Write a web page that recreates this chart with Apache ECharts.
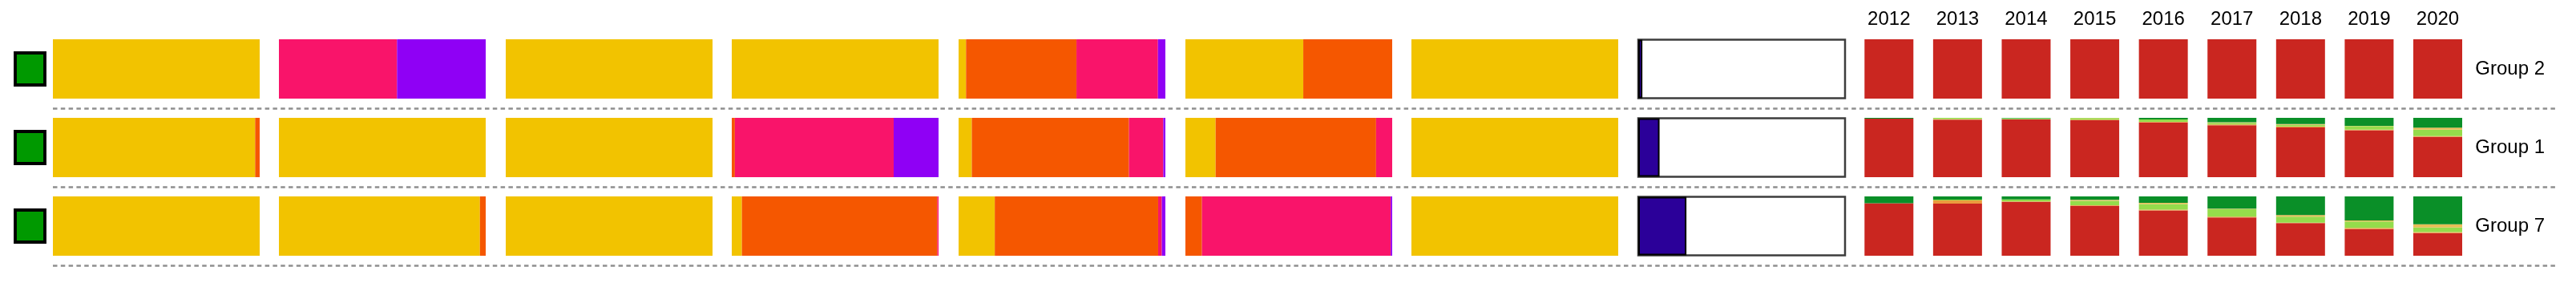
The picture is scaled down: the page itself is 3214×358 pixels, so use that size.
<!DOCTYPE html>
<html>
<head>
<meta charset="utf-8">
<script src="https://cdn.jsdelivr.net/npm/echarts@6/dist/echarts.min.js"></script>
<style>
  html, body { margin: 0; padding: 0; background: #fff; }
  #chart { width: 3214px; height: 358px; }
</style>
</head>
<body>
<div id="chart"></div>
<script>
// ---------------- DATA ----------------
const groups = ['Group 2', 'Group 1', 'Group 7'];
const years = ['2012', '2013', '2014', '2015', '2016', '2017', '2018', '2019', '2020'];
const status = ['ok', 'ok', 'ok'];

// Horizontal 100% panels: rows = groups, columns = [yellow, orange, pink, violet] shares (%)
const panel1 = [[100, 0, 0, 0], [97.8, 2.2, 0, 0], [100, 0, 0, 0]];
const panel2 = [[0, 0, 57.1, 42.9], [100, 0, 0, 0], [97.2, 2.8, 0, 0]];
const panel3 = [[100, 0, 0, 0], [100, 0, 0, 0], [100, 0, 0, 0]];
const panel4 = [[100, 0, 0, 0], [0, 1.5, 76.8, 21.7], [4.9, 94.5, 0.6, 0]];
const panel5 = [[3.6, 53.4, 39.4, 3.6], [6.4, 76, 16.6, 1], [17.5, 79, 1.8, 1.7]];
const panel6 = [[57, 43, 0, 0], [14.6, 77.6, 7.8, 0], [0, 8, 91.3, 0.7]];
const panel7 = [[100, 0, 0, 0], [100, 0, 0, 0], [100, 0, 0, 0]];
// Share shown in the outlined panel (%)
const panel8 = [2, 10.3, 23.3];

// Yearly vertical 100% bars, one array per segment per group (bottom to top: red, orange, light green, amber, dark green)
const g2Red       = [100, 100, 100, 100, 100, 100, 100, 100, 100];
const g2Orange    = [0, 0, 0, 0, 0, 0, 0, 0, 0];
const g2LightGreen= [0, 0, 0, 0, 0, 0, 0, 0, 0];
const g2Amber     = [0, 0, 0, 0, 0, 0, 0, 0, 0];
const g2DarkGreen = [0, 0, 0, 0, 0, 0, 0, 0, 0];

const g1Red       = [98.5, 97, 97.8, 96, 92.3, 87.4, 83.7, 79.2, 68];
const g1Orange    = [0, 1, 0, 1, 1, 1.4, 1.8, 1, 1.4];
const g1LightGreen= [0, 2, 1.5, 2.5, 4, 2.6, 2.7, 5.8, 10.8];
const g1Amber     = [0, 0, 0, 0.5, 0, 1, 1.4, 0.5, 3.1];
const g1DarkGreen = [1.5, 0, 0.7, 0, 2.7, 7.6, 10.4, 13.5, 16.7];

const g7Red       = [88.6, 87.7, 91, 84.1, 76.4, 64.5, 55, 45, 38.2];
const g7Orange    = [0, 5.4, 0.4, 0.9, 1.4, 1.4, 0.9, 1.8, 1.8];
const g7LightGreen= [0, 1.4, 3.6, 7.7, 9.5, 12.7, 10, 10.9, 7.7];
const g7Amber     = [0, 0, 0, 1.4, 1.8, 0.9, 2.7, 1.8, 5.5];
const g7DarkGreen = [11.4, 5.5, 5, 5.9, 10.9, 20.5, 31.4, 40.5, 46.8];

// ---------------- STYLE / LAYOUT ----------------
const FONT = '"Liberation Sans", Arial, Helvetica, sans-serif';
const segColors = ['#f2c300', '#f55700', '#f9146a', '#8f00f5'];
const yearColors = ['#ca2620', '#eb9a3e', '#95dc4b', '#e8bd55', '#0a8f28'];
const panelLefts = [66, 348, 631, 913, 1196, 1479, 1761, 2044];
const panelWidth = 258;

const panels = [panel1, panel2, panel3, panel4, panel5, panel6, panel7];
const yearRows = [
  [g2Red, g2Orange, g2LightGreen, g2Amber, g2DarkGreen],
  [g1Red, g1Orange, g1LightGreen, g1Amber, g1DarkGreen],
  [g7Red, g7Orange, g7LightGreen, g7Amber, g7DarkGreen]
];

const grid = [], xAxis = [], yAxis = [], series = [];

// horizontal panels
panels.forEach((p, i) => {
  const gi = grid.length;
  grid.push({ left: panelLefts[i], width: panelWidth, top: 37, height: 294 });
  xAxis.push({ gridIndex: gi, type: 'value', min: 0, max: 100, show: false });
  const yi = yAxis.length;
  yAxis.push({ gridIndex: gi, type: 'category', data: groups, inverse: true, show: false });
  segColors.forEach((c, s) => {
    series.push({
      type: 'bar', xAxisIndex: xAxis.length - 1, yAxisIndex: yi, stack: 'p' + i,
      barWidth: 74, data: p.map(row => row[s]),
      itemStyle: { color: c }, silent: true
    });
  });
});

// outlined panel
{
  const gi = grid.length;
  grid.push({ left: panelLefts[7], width: panelWidth, top: 37, height: 294 });
  xAxis.push({ gridIndex: gi, type: 'value', min: 0, max: 100, show: false });
  yAxis.push({ gridIndex: gi, type: 'category', data: groups, inverse: true, show: false });
  series.push({
    type: 'bar', xAxisIndex: xAxis.length - 1, yAxisIndex: yAxis.length - 1,
    barWidth: 73, data: panel8,
    showBackground: true,
    backgroundStyle: { color: '#ffffff', borderColor: '#3d3d3d', borderWidth: 2.5 },
    itemStyle: { color: '#2b0099', borderColor: '#000', borderWidth: 2 }, silent: true
  });
}

// year rows
yearRows.forEach((row, r) => {
  const gi = grid.length;
  grid.push({ left: 2314, width: 770.3, top: 49 + 98 * r, height: 74 });
  const xi = xAxis.length;
  xAxis.push({
    gridIndex: gi, type: 'category', data: years, position: 'top',
    axisLine: { show: false }, axisTick: { show: false },
    axisLabel: { show: r === 0, fontSize: 24, color: '#000', fontFamily: FONT, margin: 13 }
  });
  const yi = yAxis.length;
  yAxis.push({ gridIndex: gi, type: 'value', min: 0, max: 100, show: false });
  yAxis.push({
    gridIndex: gi, type: 'category', data: [groups[r]], position: 'right',
    axisLine: { show: false }, axisTick: { show: false }, splitLine: { show: false },
    axisLabel: { fontSize: 24, color: '#000', fontFamily: FONT, margin: 4, padding: [0, 0, 14, 0] }
  });
  row.forEach((vals, s) => {
    series.push({
      type: 'bar', xAxisIndex: xi, yAxisIndex: yi, stack: 'y' + r,
      barWidth: 61, data: vals, itemStyle: { color: yearColors[s] }, silent: true
    });
  });
});

// dashed separators
{
  const gi = grid.length;
  grid.push({ left: 66, right: 24, top: 135, height: 196 });
  xAxis.push({ gridIndex: gi, type: 'value', min: 0, max: 1, show: false });
  yAxis.push({
    gridIndex: gi, type: 'value', min: 0, max: 2, interval: 1,
    axisLine: { show: false }, axisTick: { show: false }, axisLabel: { show: false },
    splitLine: { show: true, lineStyle: { color: '#8f8f8f', width: 2.5, type: [5.5, 4.3] } }
  });
  series.push({ type: 'scatter', xAxisIndex: xAxis.length - 1, yAxisIndex: yAxis.length - 1, data: [], silent: true });
}

// status squares
{
  const gi = grid.length;
  grid.push({ left: 17, width: 41, top: 37, height: 294 });
  xAxis.push({ gridIndex: gi, type: 'value', min: 0, max: 1, show: false });
  yAxis.push({ gridIndex: gi, type: 'category', data: groups, inverse: true, show: false });
  series.push({
    type: 'scatter', xAxisIndex: xAxis.length - 1, yAxisIndex: yAxis.length - 1,
    symbol: 'rect', symbolSize: [37, 40],
    data: groups.map((g, i) => [0.5, g, status[i]]),
    itemStyle: { color: '#009900', borderColor: '#000', borderWidth: 4, opacity: 1 }, silent: true
  });
}

const chart = echarts.init(document.getElementById('chart'), null, { renderer: 'canvas' });
chart.setOption({
  animation: false,
  backgroundColor: '#ffffff',
  textStyle: { fontFamily: FONT },
  grid, xAxis, yAxis, series
});
</script>
</body>
</html>
